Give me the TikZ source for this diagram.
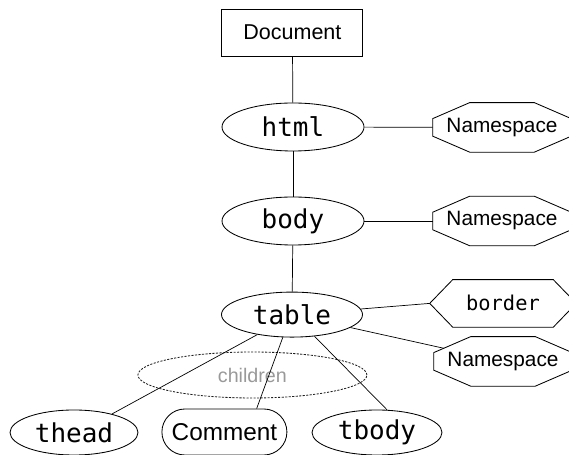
\documentclass[tikz,border=0pt]{standalone}
\usepackage{fontspec}
\setsansfont{Liberation Sans}
\setmonofont{DejaVu Sans Mono}
\usetikzlibrary{shapes.geometric, shapes.misc, calc}
\definecolor{dgray}{HTML}{1E1E1E}
\definecolor{lgray}{HTML}{999999}

\tikzset{
  elem/.style={ellipse, draw, line width=0.6pt, inner sep=0pt,
    minimum width=3.55cm, minimum height=1.2cm,
    font=\ttfamily\fontsize{18.5}{21}\selectfont},
  nsbox/.style={rectangle, inner sep=0pt,
    minimum width=3.45cm, minimum height=1.225cm,
    font=\sffamily\fontsize{14.8}{17}\selectfont},
  attrbox/.style={rectangle, inner sep=0pt,
    minimum width=3.65cm, minimum height=1.175cm,
    font=\ttfamily\fontsize{14.5}{17}\selectfont},
  outline/.style={line width=0.6pt, line join=miter},
  link/.style={line width=0.5pt}
}

\begin{document}
\begin{tikzpicture}[x=1cm, y=1cm]
\useasboundingbox (0,0) rectangle (14.225,11.375);

\node[draw, line width=0.6pt, minimum width=3.525cm, minimum height=1.175cm,
  font=\sffamily\fontsize{15.3}{17}\selectfont] (doc) at (7.31,10.56) {Document};
\node[elem] (html) at (7.325,8.2) {html};
\node[elem] (body) at (7.325,5.85) {body};
\node[elem, minimum width=3.525cm, minimum height=1.125cm] (table) at (7.3,3.51) {table};

\node[nsbox] (ns1) at (12.55,8.19) {Namespace};
\node[nsbox] (ns2) at (12.55,5.85) {Namespace};
\node[attrbox] (border) at (12.575,3.79) {border};
\node[nsbox] (ns3) at (12.575,2.34) {Namespace};

% octagon outlines round the namespace labels
\foreach \n in {ns1,ns2,ns3}
  \draw[outline] ($(\n.north west)+(0.925,0)$) -- ($(\n.north east)+(-0.925,0)$)
    -- ($(\n.north east)+(0,-0.4)$) -- ($(\n.south east)+(0,0.4)$)
    -- ($(\n.south east)+(-0.925,0)$) -- ($(\n.south west)+(0.925,0)$)
    -- ($(\n.south west)+(0,0.4)$) -- ($(\n.north west)+(0,-0.4)$) -- cycle;
% hexagon round the attribute
\draw[outline] (border.west) -- ($(border.north west)+(0.575,0)$)
  -- ($(border.north east)+(-0.575,0)$) -- (border.east)
  -- ($(border.south east)+(-0.575,0)$) -- ($(border.south west)+(0.575,0)$) -- cycle;

% children group
\node[ellipse, draw=dgray, dash pattern=on 1.5pt off 1pt, line width=0.6pt, inner sep=0pt,
  minimum width=5.725cm, minimum height=1.15cm, text=lgray,
  font=\sffamily\fontsize{14}{16}\selectfont] (kids) at (6.31,2.0) {children};

\node[elem, minimum width=3.2cm, minimum height=1.125cm] (thead) at (1.85,0.5625) {thead};
\node[rounded rectangle, draw, line width=0.6pt, inner sep=0pt,
  minimum width=3.125cm, minimum height=1.15cm,
  font=\sffamily\fontsize{17.3}{19}\selectfont] (cmt) at (5.61,0.575) {Comment};
\node[elem, minimum width=3.25cm, minimum height=1.125cm] (tbody) at (9.425,0.5625) {tbody};

\draw[link] (doc) -- (html);
\draw[link] (html) -- (body);
\draw[link] (body) -- (table);
\draw[link] (html) -- (ns1);
\draw[link] (body) -- (ns2);
\draw[link] (table) -- (border.west);
\draw[link, shorten >=1.51cm] (table) -- (ns3.center);
\draw[link] (table.210) -- (thead.26);
\draw[link] (table.248) -- (cmt.36);
\draw[link] (table.316) -- (tbody.66);
\end{tikzpicture}
\end{document}
